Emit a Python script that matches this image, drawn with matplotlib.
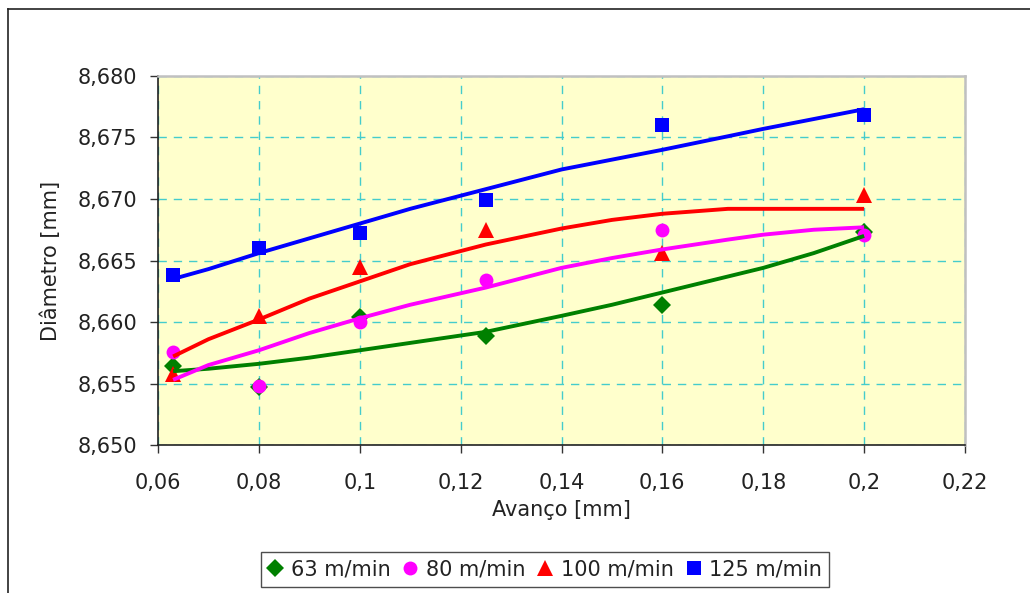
import matplotlib
matplotlib.use("Agg")
import matplotlib.pyplot as plt
from matplotlib.lines import Line2D

# ---- data ----
avanco = [0.063, 0.08, 0.1, 0.125, 0.16, 0.2]
d63 = [8.6564, 8.6547, 8.6604, 8.6589, 8.6614, 8.6673]
d80 = [8.6576, 8.6548, 8.6600, 8.6634, 8.6675, 8.6671]
d100 = [8.6558, 8.6605, 8.6645, 8.6675, 8.6656, 8.6703]
d125 = [8.6638, 8.6660, 8.6672, 8.6699, 8.6760, 8.6768]

# trend lines
trend_x = [0.063, 0.07, 0.08, 0.09, 0.1, 0.11, 0.125, 0.14, 0.15, 0.16, 0.173, 0.18, 0.19, 0.2]
t63 = [8.6560, 8.6562, 8.6566, 8.6571, 8.6577, 8.6583, 8.6592, 8.6605, 8.6614, 8.6624, 8.6637, 8.6644, 8.6656, 8.6670]
t80 = [8.6553, 8.6565, 8.6577, 8.6591, 8.6603, 8.6614, 8.6628, 8.6644, 8.6652, 8.6659, 8.6667, 8.6671, 8.6675, 8.6677]
t100 = [8.6572, 8.6586, 8.6602, 8.6619, 8.6633, 8.6647, 8.6663, 8.6676, 8.6683, 8.6688, 8.6692, 8.6692, 8.6692, 8.6692]
t125 = [8.6635, 8.6643, 8.6656, 8.6668, 8.6680, 8.6692, 8.6708, 8.6724, 8.6732, 8.6740, 8.6751, 8.6757, 8.6765, 8.6773]

labels = ["63 m/min", "80 m/min", "100 m/min", "125 m/min"]
x_ticks = [0.06, 0.08, 0.10, 0.12, 0.14, 0.16, 0.18, 0.20, 0.22]
x_tick_labels = ["0,06", "0,08", "0,1", "0,12", "0,14", "0,16", "0,18", "0,2", "0,22"]
y_ticks = [8.650, 8.655, 8.660, 8.665, 8.670, 8.675, 8.680]
y_tick_labels = ["8,650", "8,655", "8,660", "8,665", "8,670", "8,675", "8,680"]

plt.rcParams['font.family'] = ['DejaVu Sans']
fig = plt.figure(figsize=(10.30, 5.93), dpi=100)
ax = fig.add_axes([158/1030, 1-445/593, (965-158)/1030, (445-76)/593])
ax.set_facecolor("#FFFFCC")

styles = [
    (d63, t63, "#008000", "D", 9),
    (d80, t80, "#FF00FF", "o", 10),
    (d100, t100, "#FF0000", "^", 11),
    (d125, t125, "#0000FF", "s", 10),
]
handles = []
for (pts, tr, c, m, ms), lab in zip(styles, labels):
    h, = ax.plot(avanco, pts, linestyle="none", marker=m, color=c,
                 markersize=ms, markeredgewidth=0, label=lab, zorder=3)
    handles.append(h)
for (pts, tr, c, m, ms) in styles:
    ax.plot(trend_x, tr, color=c, linewidth=2.8, zorder=4,
            solid_capstyle="butt", solid_joinstyle="round")

ax.set_xlim(0.06, 0.22)
ax.set_ylim(8.650, 8.680)
ax.set_xticks(x_ticks)
ax.set_xticklabels(x_tick_labels)
ax.set_yticks(y_ticks)
ax.set_yticklabels(y_tick_labels)
ax.tick_params(axis="both", labelsize=15, direction="out", length=6,
               width=1, color="#333333", labelcolor="#222222")
ax.tick_params(axis="x", pad=14)
ax.tick_params(axis="y", pad=9)

ax.grid(True, color="#44CCCC", linestyle=(0, (6, 5)), linewidth=1.0, zorder=1)
ax.set_axisbelow(True)

for s in ["left", "bottom"]:
    ax.spines[s].set_color("#222222")
    ax.spines[s].set_linewidth(1.2)
for s in ["top", "right"]:
    ax.spines[s].set_color("#C0C0C0")
    ax.spines[s].set_linewidth(1.8)

ax.set_xlabel("Avanço [mm]", fontsize=15, color="#222222", labelpad=5)
ax.set_ylabel("Diâmetro [mm]", fontsize=15, color="#222222", labelpad=12)

leg = fig.legend(handles=handles, loc="center", bbox_to_anchor=(545/1030, 1-569.5/593),
                 ncol=4, fontsize=15, frameon=True, fancybox=False,
                 handlelength=0.7, handletextpad=0.4, columnspacing=0.6,
                 borderpad=0.35, borderaxespad=0)
leg.get_frame().set_edgecolor("#222222")
leg.get_frame().set_linewidth(1.0)
for t in leg.get_texts():
    t.set_color("#222222")

# chart-area frame (left and top edges visible)
x0, y0 = 8/1030, 1-9/593
fig.add_artist(Line2D([x0, x0], [0, y0], color="#222222", linewidth=1.2))
fig.add_artist(Line2D([x0, 1], [y0, y0], color="#222222", linewidth=1.2))

fig.savefig("out.png", dpi=100)
